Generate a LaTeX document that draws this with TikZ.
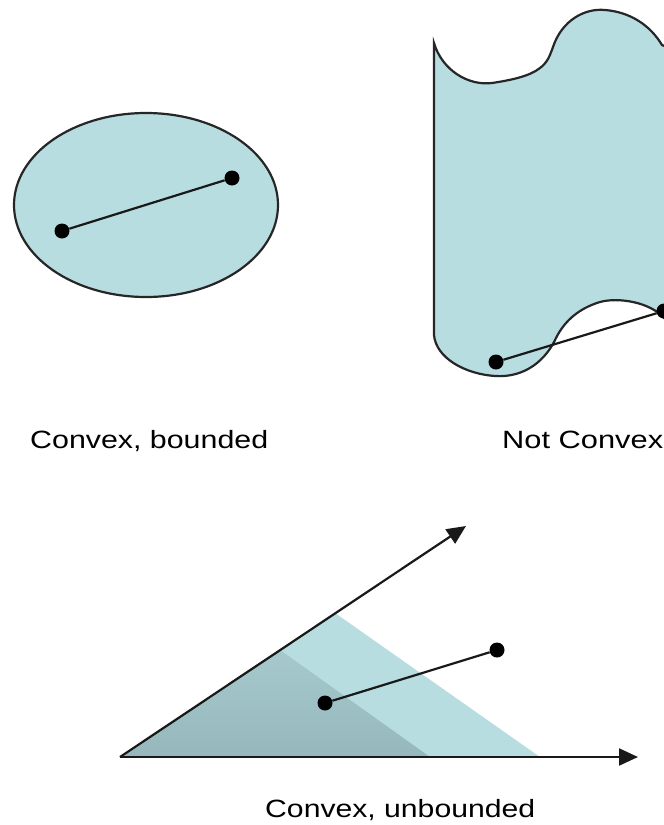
\documentclass[tikz,border=0pt]{standalone}
\usepackage{fontspec}
\setmainfont{Liberation Sans}
\usetikzlibrary{arrows.meta}
\definecolor{lightfill}{RGB}{183,221,225}
\definecolor{darktop}{RGB}{166,201,205}
\definecolor{darkbot}{RGB}{150,184,189}
\tikzset{
  outline/.style={draw=black!85, line width=2.2pt, fill=lightfill},
  dot/.style={circle, fill=black, inner sep=0pt, minimum size=15pt},
  seg/.style={draw=black!90, line width=2.2pt},
  ray/.style={draw=black!90, line width=2.2pt, -{Triangle[length=19pt,width=17pt]}},
  lbl/.style={anchor=base west, inner sep=0pt, font=\fontsize{25}{28}\selectfont}
}
\begin{document}
\begin{tikzpicture}[x=1pt,y=-1pt]
\useasboundingbox (0,0) rectangle (664,825);
\clip (0,0) rectangle (664,825);
% convex bounded
\draw[outline] (146,205) ellipse [x radius=132, y radius=92];
\node[dot] (e1) at (62,231) {};
\node[dot] (e2) at (232,178) {};
\draw[seg] (e1) -- (e2);
% not convex
\draw[outline] (434,43) .. controls (442,70) and (468,86) .. (492,83)
  .. controls (512,80) and (530,76) .. (540,68)
  .. controls (548,62) and (550,55) .. (553,47)
  .. controls (562,20) and (585,8) .. (605,10)
  .. controls (630,12) and (650,25) .. (662,45)
  -- (720,70) -- (720,330)
  -- (664,318)
  .. controls (650,302) and (618,297) .. (600,302)
  .. controls (580,308) and (565,320) .. (556,338)
  .. controls (546,360) and (525,378) .. (495,376)
  .. controls (465,374) and (436,358) .. (434,335)
  -- cycle;
\node[dot] (n1) at (496,362) {};
\node[dot] (n2) at (664,311) {};
\draw[seg] (n1) -- (n2);
% labels
\node[lbl] (l1) at (30,448) {\resizebox{238pt}{\height}{Convex, bounded}};
\node[lbl] (l2) at (502,448) {\resizebox{161pt}{\height}{Not Convex}};
% convex unbounded
\coordinate (apex) at (120,757);
\coordinate (tipU) at (466,526);
\coordinate (tipR) at (638,757);
\fill[lightfill] (apex) -- (335,613) -- (540,757) -- cycle;
\shade[top color=darktop, bottom color=darkbot] (apex) -- (280,650) -- (430,757) -- cycle;
\draw[ray] (apex) -- (tipU);
\draw[ray] (apex) -- (tipR);
\node[dot] (c1) at (325,703) {};
\node[dot] (c2) at (497,650) {};
\draw[seg] (c1) -- (c2);
\node[lbl] (l3) at (265,817) {\resizebox{270pt}{\height}{Convex, unbounded}};
\end{tikzpicture}
\end{document}
